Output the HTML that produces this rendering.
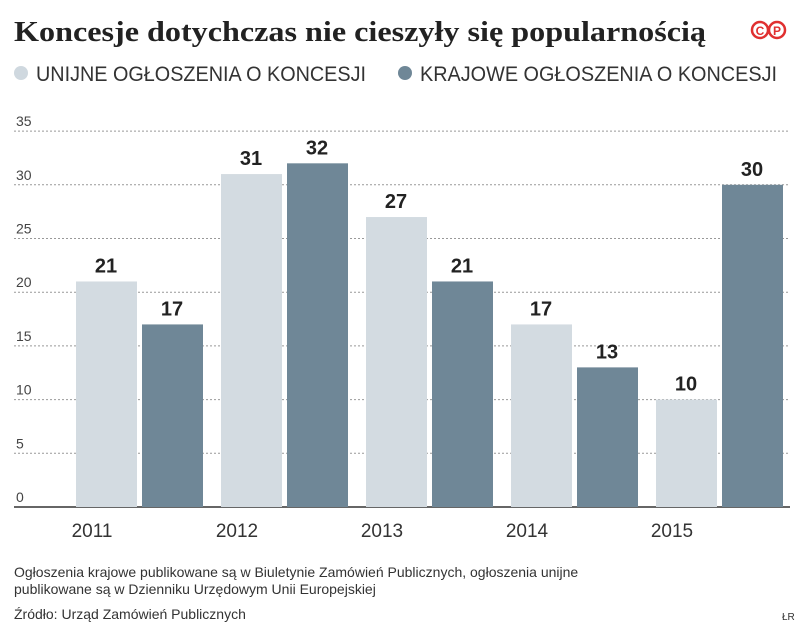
<!DOCTYPE html>
<html><head><meta charset="utf-8"><style>
body{margin:0;background:#fff;width:805px;height:637px;overflow:hidden;font-family:"Liberation Sans",sans-serif}
</style></head><body>
<svg width="805" height="637">
<text x="14" y="41" font-family="Liberation Serif,serif" font-weight="bold" font-size="29" fill="#222" textLength="692" lengthAdjust="spacingAndGlyphs">Koncesje dotychczas nie cieszyły się popularnością</text>
<g><circle cx="760" cy="30" r="8" fill="none" stroke="#e03030" stroke-width="2.5"/><circle cx="777" cy="30" r="8" fill="none" stroke="#e03030" stroke-width="2.5"/><text x="760" y="35" font-size="12" font-weight="bold" fill="#e03030" text-anchor="middle">C</text><text x="777" y="35" font-size="12" font-weight="bold" fill="#e03030" text-anchor="middle">P</text></g>
<g><circle cx="21" cy="73" r="7" fill="#cfd8df"/><text x="36" y="81" font-size="21" fill="#333" textLength="330" lengthAdjust="spacingAndGlyphs">UNIJNE OGŁOSZENIA O KONCESJI</text></g>
<g><circle cx="405" cy="73" r="7" fill="#6f8797"/><text x="420" y="81" font-size="21" fill="#333" textLength="357" lengthAdjust="spacingAndGlyphs">KRAJOWE OGŁOSZENIA O KONCESJI</text></g>
<g id="grid"></g><g id="bars"></g>
<text x="14" y="577" font-size="14" fill="#333">Ogłoszenia krajowe publikowane są w Biuletynie Zamówień Publicznych, ogłoszenia unijne</text>
<text x="14" y="594" font-size="14" fill="#333">publikowane są w Dzienniku Urzędowym Unii Europejskiej</text>
<text x="14" y="619" font-size="14" fill="#333">Źródło: Urząd Zamówień Publicznych</text>
<text x="782" y="620" font-size="10" fill="#333">ŁR</text>
</svg>
<script>
const years=["2011","2012","2013","2014","2015"];
const unijne=[21,31,27,17,10];
const krajowe=[17,32,21,13,30];
const ticks=[0,5,10,15,20,25,30,35];
const y0=507,ppu=10.74;
function Y(v){return y0-v*ppu}
function X(i){return 76+i*145}
const ns="http://www.w3.org/2000/svg";
function mk(t,a,p){const e=document.createElementNS(ns,t);for(const k in a)e.setAttribute(k,a[k]);p.appendChild(e);return e}
const g=document.getElementById('grid'),b=document.getElementById('bars');
ticks.forEach(t=>{
 const l=mk('line',{x1:14,x2:790,y1:Y(t),y2:Y(t),stroke:t?'#999':'#333','stroke-width':t?1:1.5,'stroke-dasharray':t?'2,2':''},g);
 
 
 const tx=mk('text',{x:16,y:Y(t)-5,'font-size':14,fill:'#444'},g);tx.textContent=t;
 
 
});
years.forEach((yr,i)=>{
 [[unijne,'#d3dbe1',0],[krajowe,'#6f8797',66]].forEach(([arr,c,off],k)=>{
  const x=X(i)+off,v=arr[i];
  const r=mk('rect',{x:x,y:Y(v),width:61,height:v*ppu,fill:c},b);
  
  
  const t=mk('text',{x:x+30,y:Y(v)-9,'font-size':20,'font-weight':'bold',fill:'#222','text-anchor':'middle'},b);t.textContent=v;
  
  
 });
 const t=mk('text',{x:X(i)+16,y:537,'font-size':19,fill:'#333','text-anchor':'middle'},b);t.textContent=yr;
 
 
});
</script>
</body></html>
